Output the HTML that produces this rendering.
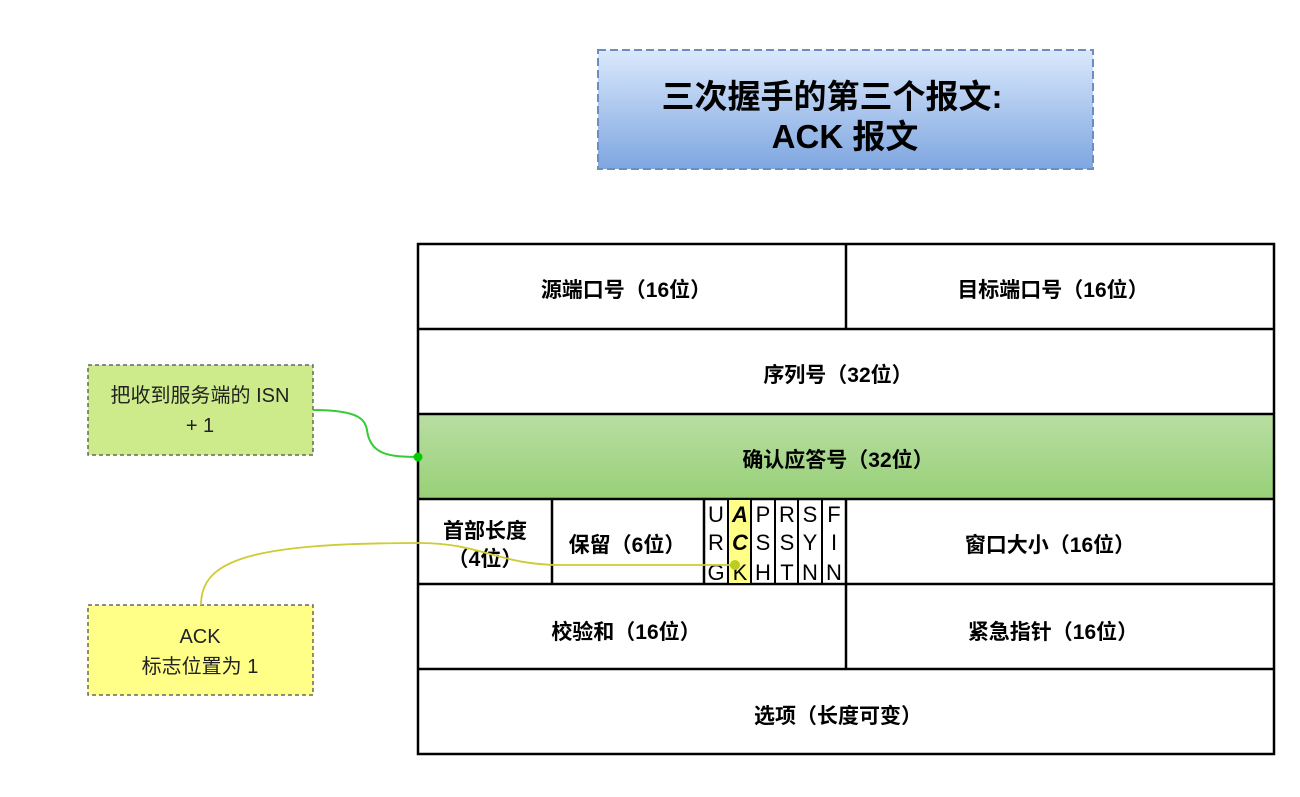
<!DOCTYPE html>
<html><head><meta charset="utf-8"><style>
html,body{margin:0;padding:0;background:#fff;width:1300px;height:797px;overflow:hidden}
svg text{font-family:"Liberation Sans","Noto Sans CJK SC",sans-serif}
</style></head><body>
<svg width="1300" height="797" viewBox="0 0 1300 797" xmlns="http://www.w3.org/2000/svg">
<defs>
<linearGradient id="bg" x1="0" y1="0" x2="0" y2="1"><stop offset="0" stop-color="#dae8fc"/><stop offset="1" stop-color="#7ea6e0"/></linearGradient>
<linearGradient id="gg" x1="0" y1="0" x2="0" y2="1"><stop offset="0" stop-color="#b9dea3"/><stop offset="1" stop-color="#97d077"/></linearGradient>
</defs>
<rect x="598" y="50" width="495" height="119" fill="url(#bg)" stroke="#6c8ebf" stroke-width="2" stroke-dasharray="8,4"/>
<text x="832" y="108" font-size="33" font-weight="bold" text-anchor="middle">三次握手的第三个报文:</text>
<text x="845" y="148" font-size="33" font-weight="bold" text-anchor="middle">ACK 报文</text>

<rect x="418" y="414" width="856" height="85" fill="url(#gg)" stroke="#82b366" stroke-width="2"/>
<g fill="none" stroke="#000" stroke-width="2.5">
<rect x="418" y="244" width="856" height="510"/>
<line x1="418" y1="329" x2="1274" y2="329"/>
<line x1="418" y1="414" x2="1274" y2="414"/>
<line x1="418" y1="499" x2="1274" y2="499"/>
<line x1="418" y1="584" x2="1274" y2="584"/>
<line x1="418" y1="669" x2="1274" y2="669"/>
<line x1="846" y1="244" x2="846" y2="329"/>
<line x1="846" y1="499" x2="846" y2="669"/>
<line x1="552" y1="499" x2="552" y2="584"/>
<line x1="704" y1="499" x2="704" y2="584"/>
</g>
<rect x="729" y="500" width="22" height="83" fill="#ffff88"/>
<g stroke="#000" stroke-width="2">
<line x1="728" y1="499" x2="728" y2="584"/><line x1="751" y1="499" x2="751" y2="584"/>
<line x1="775" y1="499" x2="775" y2="584"/><line x1="798" y1="499" x2="798" y2="584"/>
<line x1="822" y1="499" x2="822" y2="584"/>
</g>
<g font-size="21" font-weight="bold" text-anchor="middle">
<text x="626" y="297">源端口号（16位）</text>
<text x="1053" y="297">目标端口号（16位）</text>
<text x="838" y="382">序列号（32位）</text>
<text x="838" y="467">确认应答号（32位）</text>
<text x="485" y="538">首部长度</text>
<text x="485" y="566">（4位）</text>
<text x="627" y="552">保留（6位）</text>
<text x="1050" y="552">窗口大小（16位）</text>
<text x="626" y="639">校验和（16位）</text>
<text x="1053" y="639">紧急指针（16位）</text>
<text x="838" y="723">选项（长度可变）</text>
</g>
<g font-size="22" text-anchor="middle" font-family="Liberation Mono">
<text x="716" y="522">U</text><text x="716" y="550">R</text><text x="716" y="580">G</text>
<text x="740" y="522" font-style="italic" font-weight="bold">A</text><text x="740" y="550" font-style="italic" font-weight="bold">C</text><text x="740" y="580">K</text>
<text x="763" y="522">P</text><text x="763" y="550">S</text><text x="763" y="580">H</text>
<text x="787" y="522">R</text><text x="787" y="550">S</text><text x="787" y="580">T</text>
<text x="810" y="522">S</text><text x="810" y="550">Y</text><text x="810" y="580">N</text>
<text x="834" y="522">F</text><text x="834" y="550">I</text><text x="834" y="580">N</text>
</g>

<rect x="88" y="365" width="225" height="90" fill="#cdeb8b" stroke="#666" stroke-width="1.5" stroke-dasharray="4,3"/>
<text x="200" y="402" font-size="20" text-anchor="middle" fill="#222">把收到服务端的 ISN</text>
<text x="200" y="432" font-size="20" text-anchor="middle" fill="#222">+ 1</text>
<rect x="88" y="605" width="225" height="90" fill="#ffff88" stroke="#666" stroke-width="1.5" stroke-dasharray="4,3"/>
<text x="200" y="643" font-size="20" text-anchor="middle" fill="#222">ACK</text>
<text x="200" y="673" font-size="20" text-anchor="middle" fill="#222">标志位置为 1</text>

<path d="M313,410 C360,410 365,420 367,430 C370,455 390,457 418,457" fill="none" stroke="#33cc33" stroke-width="2"/>
<circle cx="418" cy="457" r="4.5" fill="#00cc00"/>
<path d="M201,605 C201,560 250,543 420,543 C480,543 500,565 560,565 L735,565" fill="none" stroke="#cccc33" stroke-width="1.8"/>
<circle cx="735" cy="565" r="5" fill="#bbcc22"/>
</svg>
</body></html>
